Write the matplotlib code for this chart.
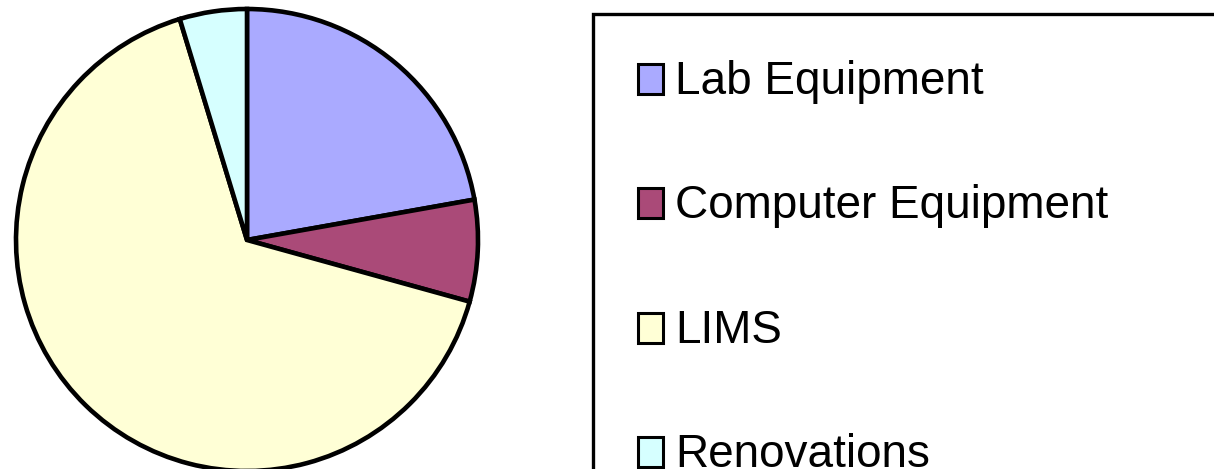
import matplotlib.pyplot as plt
from matplotlib.patches import Rectangle

categories = ["Lab Equipment", "Computer Equipment", "LIMS", "Renovations"]
values = [22.2, 7.1, 66.0, 4.7]
colors = ["#aaaaff", "#aa4a78", "#ffffd6", "#d6ffff"]

W, H = 1214, 469


def fx(x):
    return x / W


def fy(y):
    return 1 - y / H


fig = plt.figure(figsize=(W / 100, H / 100), dpi=100)
plt.rcParams["font.family"] = ["Liberation Sans", "DejaVu Sans"]

# pie: centre (247, 240), radius ~231 px
cx, cy, r = 247, 240, 231
ax = fig.add_axes([fx(cx - r), fy(cy + r), 2 * r / W, 2 * r / H])
ax.pie(values, colors=colors, startangle=90, counterclock=False,
       wedgeprops=dict(edgecolor="black", linewidth=3.3))
ax.set_xlim(-1, 1)
ax.set_ylim(-1, 1)
ax.set_aspect("auto")
ax.axis("off")

# legend box, cut off by the right and bottom edges
fig.add_artist(Rectangle((fx(593), fy(600)), fx(900), 586 / H,
                         transform=fig.transFigure, facecolor="white",
                         edgecolor="black", linewidth=2.4, zorder=1))

for i, (lab, col) in enumerate(zip(categories, colors)):
    base = 94 + i * 124.3
    fig.add_artist(Rectangle((fx(638), fy(base)), 25 / W, 30 / H,
                             transform=fig.transFigure, facecolor=col,
                             edgecolor="black", linewidth=2.2, zorder=2))
    fig.text(fx(675), fy(base), lab, fontsize=33, va="baseline",
             ha="left", color="black", zorder=3)

fig.savefig("out.png", dpi=100)
